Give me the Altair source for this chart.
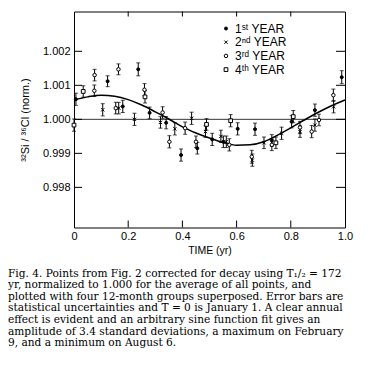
import altair as alt
import pandas as pd

# ---------------- data ----------------
years = ["1ˢᵗ YEAR", "2ⁿᵈ YEAR", "3ʳᵈ YEAR", "4ᵗʰ YEAR"]

y1_t = [0.007, 0.124, 0.180, 0.237, 0.279, 0.340, 0.395, 0.455, 0.510, 0.551, 0.604, 0.668, 0.730, 0.803, 0.889, 0.988]
y1_r = [1.00059, 1.00112, 1.00038, 1.00147, 1.00019, 0.99990, 0.99895, 0.99915, 0.99941, 0.99934, 0.99972, 0.99971, 0.99938, 0.99993, 1.00027, 1.00124]
y1_e = [0.00018, 0.00016, 0.00018, 0.00019, 0.00017, 0.00018, 0.00018, 0.00017, 0.00018, 0.00017, 0.00018, 0.00018, 0.00017, 0.00018, 0.00018, 0.00019]

y2_t = [0.106, 0.165, 0.223, 0.319, 0.372, 0.434, 0.485, 0.542, 0.562, 0.658, 0.701, 0.766, 0.834, 0.889, 0.958]
y2_r = [1.00028, 1.00033, 1.00000, 0.99991, 0.99972, 1.00003, 0.99964, 0.99950, 0.99934, 0.99880, 0.99931, 0.99959, 0.99964, 0.99983, 1.00037]
y2_e = [0.00018, 0.00017, 0.00018, 0.00017, 0.00018, 0.00018, 0.00017, 0.00018, 0.00017, 0.00018, 0.00017, 0.00018, 0.00017, 0.00018, 0.00018]

y3_t = [0.076, 0.075, 0.164, 0.154, 0.260, 0.327, 0.352, 0.410, 0.450, 0.573, 0.656, 0.730, 0.834, 0.877, 0.904, 0.957]
y3_r = [1.00130, 1.00084, 1.00147, 1.00033, 1.00087, 1.00020, 0.99934, 0.99974, 0.99934, 0.99925, 0.99890, 0.99925, 0.99976, 0.99964, 0.99998, 1.00071]
y3_e = [0.00017, 0.00017, 0.00016, 0.00017, 0.00018, 0.00017, 0.00018, 0.00018, 0.00017, 0.00018, 0.00019, 0.00017, 0.00018, 0.00018, 0.00017, 0.00018]

y4_t = [0.000, 0.034, 0.262, 0.489, 0.578, 0.745, 0.809]
y4_r = [0.99983, 1.00082, 1.00066, 0.99985, 0.99996, 0.99931, 1.00008]
y4_e = [0.00018, 0.00017, 0.00018, 0.00017, 0.00018, 0.00017, 0.00018]

# arbitrary sine-function fit
fit_t = [0.0, 0.05, 0.1, 0.15, 0.2, 0.25, 0.3, 0.35, 0.4, 0.45, 0.5,
         0.55, 0.6, 0.65, 0.7, 0.75, 0.8, 0.85, 0.9, 0.95, 1.0]
fit_r = [1.00057, 1.00066, 1.00071, 1.00068, 1.00058, 1.00042, 1.00022, 1.00001,
         0.99978, 0.99960, 0.99945, 0.99932, 0.99924, 0.99925, 0.99934, 0.99953,
         0.99975, 0.99998, 1.00020, 1.00040, 1.00057]

x_ticks = [0, 0.2, 0.4, 0.6, 0.8, 1.0]
y_ticks = [0.998, 0.999, 1.000, 1.001, 1.002]

caption_lines = [
    "Fig. 4. Points from Fig. 2 corrected for decay using T₁/₂ = 172",
    "yr, normalized to 1.000 for the average of all points, and",
    "plotted with four 12-month groups superposed. Error bars are",
    "statistical uncertainties and T = 0 is January 1. A clear annual",
    "effect is evident and an arbitrary sine function fit gives an",
    "amplitude of 3.4 standard deviations, a maximum on February",
    "9, and a minimum on August 6.",
]

# ---------------- tables ----------------
rows = []
for lab, ts, rs, es in zip(years, [y1_t, y2_t, y3_t, y4_t], [y1_r, y2_r, y3_r, y4_r], [y1_e, y2_e, y3_e, y4_e]):
    for t, r, e in zip(ts, rs, es):
        rows.append({"t": t, "r": r, "lo": r - e, "hi": r + e, "year": lab})
pts = pd.DataFrame(rows)
fit = pd.DataFrame({"t": fit_t, "r": fit_r})
xt = pd.DataFrame({"t": x_ticks[1:-1]})
yt = pd.DataFrame({"r": y_ticks})
cap = pd.DataFrame({"c": ["\n".join(caption_lines)]})

W, H = 271, 216
xscale = alt.Scale(domain=[0, 1], nice=False, zero=False)
yscale = alt.Scale(domain=[0.99682, 1.00317], nice=False, zero=False)
FONT = "Liberation Sans"
xaxis = alt.Axis(values=x_ticks, labelExpr="datum.value == 0 ? '0' : format(datum.value, '.1f')",
                 ticks=False, domain=False, grid=False, labelFlush=False, labelPadding=3,
                 titlePadding=4, labelFont=FONT, labelFontSize=11, titleFont=FONT,
                 titleFontSize=10.5, titleFontWeight="normal", labelColor="black", titleColor="black")
yaxis = alt.Axis(values=y_ticks, format=".3f", ticks=False, domain=False, grid=False,
                 labelPadding=4, titleX=-49, titleY=H / 2, titleAngle=270, titleAlign="center",
                 titleBaseline="middle", labelFont=FONT, labelFontSize=11, titleFont=FONT,
                 titleFontSize=11, titleFontWeight="normal", labelColor="black", titleColor="black")
XT = "TIME (yr)"
YT = "³²Si / ³⁶Cl (norm.)"

def X(f):
    return alt.X(f, type="quantitative", scale=xscale, axis=xaxis, title=XT)

def Y(f):
    return alt.Y(f, type="quantitative", scale=yscale, axis=yaxis, title=YT)

legend = alt.Legend(title=None, orient="none", legendX=146, legendY=11, padding=0,
                    labelFont=FONT, labelFontSize=12, labelColor="black", labelOffset=3,
                    symbolStrokeWidth=1, rowPadding=1.7)
shape_scale = alt.Scale(domain=years, range=["circle", "M-1,-1L1,1M-1,1L1,-1", "circle", "square"])
fill_scale = alt.Scale(domain=years, range=["black", "black", "white", "white"])
stroke_scale = alt.Scale(domain=years, range=["black", "black", "black", "black"])
size_scale = alt.Scale(domain=years, range=[9, 14, 20, 18])

hline = alt.Chart(yt).transform_filter("datum.r == 1").mark_rule(color="black", strokeWidth=0.8).encode(y=Y("r"))
curve = alt.Chart(fit).mark_line(color="black", strokeWidth=1.5, interpolate="monotone").encode(x=X("t"), y=Y("r"))
bars = alt.Chart(pts).mark_rule(color="black", strokeWidth=1).encode(x=X("t"), y=Y("lo"), y2="hi")
cap_lo = alt.Chart(pts).mark_tick(color="black", size=4, thickness=1, orient="horizontal").encode(x=X("t"), y=Y("lo"))
cap_hi = alt.Chart(pts).mark_tick(color="black", size=4, thickness=1, orient="horizontal").encode(x=X("t"), y=Y("hi"))
points = alt.Chart(pts).mark_point(filled=True, strokeWidth=1, opacity=1).encode(
    x=X("t"), y=Y("r"),
    shape=alt.Shape("year:N", scale=shape_scale, legend=legend),
    fill=alt.Fill("year:N", scale=fill_scale, legend=legend),
    stroke=alt.Stroke("year:N", scale=stroke_scale, legend=legend),
    size=alt.Size("year:N", scale=size_scale, legend=legend),
)
lt = alt.Chart(yt).mark_rule(color="black").encode(y=Y("r"), x=alt.value(0), x2=alt.value(8))
rt = alt.Chart(yt).mark_rule(color="black").encode(y=Y("r"), x=alt.value(W - 9), x2=alt.value(W))
bt = alt.Chart(xt).mark_rule(color="black").encode(x=X("t"), y=alt.value(H), y2=alt.value(H - 7))
tt = alt.Chart(xt).mark_rule(color="black").encode(x=X("t"), y=alt.value(0), y2=alt.value(5))
caption = alt.Chart(cap).mark_text(align="left", baseline="top", lineBreak="\n", lineHeight=11.6,
                                   font="DejaVu Serif", fontSize=10.6, color="black").encode(
    x=alt.value(-66), y=alt.value(257), text="c:N")

chart = alt.layer(hline, curve, bars, cap_lo, cap_hi, points, lt, rt, bt, tt, caption).properties(
    width=W, height=H,
    autosize=alt.AutoSizeParams(type="none"),
    padding={"left": 66, "top": 3.5, "right": 10, "bottom": 140},
).configure_view(stroke="black", strokeWidth=1)

chart.save("out.html", embed_options={"renderer": "svg", "actions": False})
